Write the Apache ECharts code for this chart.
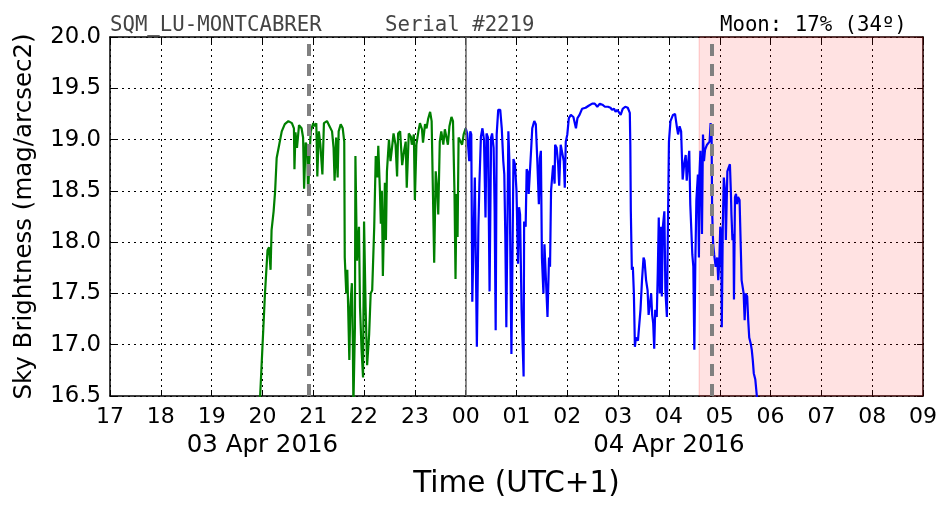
<!DOCTYPE html>
<html>
<head>
<meta charset="utf-8">
<script src="https://cdn.jsdelivr.net/npm/echarts@6/dist/echarts.min.js"></script>
<style>
  html, body { margin: 0; padding: 0; background: #fff; }
  #sqm-chart { width: 952px; height: 512px; }
</style>
</head>
<body>
<div id="sqm-chart"></div>
<script>
  // hours counted from 00:00 on 03 Apr 2016 (24 = midnight, 28 = 04:00 next day)
  var stationName = 'SQM_LU-MONTCABRER';
  var serialText = 'Serial #2219';
  var moonText = 'Moon: 17% (34º)';
  var dateLabels = [{at: 20, text: '03 Apr 2016'}, {at: 28, text: '04 Apr 2016'}];
  var eventLines = [20.917, 28.85];   // grey dashed lines
  var midnight = 24;
  var moonStart = 28.595;              // pink band start
  var axisStart = 17, axisEnd = 33;

  var greenTime = [19.95, 20.05, 20.10, 20.13, 20.16, 20.18, 20.22, 20.25, 20.28, 20.33, 20.38, 20.44, 20.51, 20.58, 20.62, 20.63, 20.65, 20.68, 20.72, 20.77,
    20.80, 20.82, 20.85, 20.88, 20.90, 20.92, 20.95, 21.00, 21.03, 21.06, 21.08, 21.11, 21.14, 21.18, 21.21, 21.27, 21.32, 21.37, 21.40, 21.42,
    21.45, 21.48, 21.50, 21.54, 21.58, 21.61, 21.62, 21.65, 21.67, 21.71, 21.73, 21.76, 21.78, 21.79, 21.82, 21.83, 21.86, 21.90, 21.92, 21.95,
    21.98, 22.00, 22.03, 22.06, 22.10, 22.13, 22.16, 22.20, 22.23, 22.26, 22.28, 22.31, 22.33, 22.35, 22.37, 22.41, 22.43, 22.45, 22.49, 22.52,
    22.55, 22.58, 22.62, 22.65, 22.67, 22.71, 22.75, 22.79, 22.82, 22.84, 22.88, 22.92, 22.94, 22.98, 23.00, 23.03, 23.07, 23.10, 23.14, 23.16,
    23.20, 23.23, 23.26, 23.30, 23.33, 23.35, 23.38, 23.41, 23.44, 23.46, 23.49, 23.52, 23.56, 23.59, 23.62, 23.65, 23.68, 23.72, 23.75, 23.78,
    23.80, 23.82, 23.84, 23.86, 23.89, 23.93, 23.96, 24.00];
  var greenValue = [16.45, 17.50, 17.92, 17.95, 17.73, 18.12, 18.30, 18.50, 18.82, 18.95, 19.08, 19.15, 19.18, 19.16, 19.11, 18.71, 19.07, 18.92, 19.14, 19.11,
    19.02, 18.52, 18.97, 18.94, 18.45, 18.76, 19.08, 19.16, 19.13, 19.16, 18.64, 19.08, 18.95, 18.66, 19.16, 19.18, 19.13, 19.08, 18.92, 18.60,
    19.02, 18.63, 19.08, 19.15, 19.11, 18.98, 17.85, 17.50, 17.73, 16.85, 17.37, 17.60, 16.98, 16.40, 17.17, 18.84, 17.82, 18.15, 17.37, 16.96,
    16.68, 18.20, 17.37, 16.80, 17.10, 17.50, 17.53, 18.15, 18.84, 18.63, 18.94, 18.53, 18.18, 18.50, 17.67, 18.58, 18.02, 18.69, 19.00, 18.79,
    18.92, 19.06, 18.95, 18.64, 19.06, 19.08, 18.75, 18.90, 18.98, 18.53, 19.06, 19.03, 18.95, 19.05, 18.41, 18.95, 19.08, 19.16, 19.10, 18.97,
    19.15, 19.11, 19.20, 19.27, 19.18, 18.63, 17.80, 18.69, 18.50, 18.27, 18.98, 19.08, 18.95, 19.10, 19.11, 18.95, 19.13, 19.22, 19.18, 18.47,
    17.64, 18.47, 18.05, 19.02, 19.02, 18.95, 19.05, 19.11];

  var blueTime = [24.00, 24.03, 24.07, 24.09, 24.11, 24.13, 24.16, 24.18, 24.22, 24.25, 24.27, 24.30, 24.33, 24.36, 24.39, 24.41, 24.44, 24.47, 24.50, 24.52,
    24.55, 24.57, 24.59, 24.61, 24.64, 24.68, 24.71, 24.74, 24.76, 24.78, 24.80, 24.84, 24.86, 24.88, 24.90, 24.92, 24.94, 24.97, 25.00, 25.03,
    25.05, 25.07, 25.10, 25.14, 25.15, 25.18, 25.20, 25.22, 25.24, 25.27, 25.29, 25.31, 25.35, 25.38, 25.41, 25.44, 25.46, 25.48, 25.50, 25.53,
    25.55, 25.58, 25.61, 25.64, 25.66, 25.68, 25.70, 25.72, 25.75, 25.76, 25.79, 25.82, 25.84, 25.87, 25.90, 25.93, 25.95, 25.97, 26.00, 26.03,
    26.07, 26.12, 26.15, 26.17, 26.20, 26.24, 26.29, 26.36, 26.42, 26.49, 26.54, 26.59, 26.64, 26.69, 26.74, 26.80, 26.85, 26.88, 26.92, 26.95,
    26.98, 27.01, 27.05, 27.09, 27.14, 27.19, 27.23, 27.24, 27.25, 27.27, 27.29, 27.31, 27.33, 27.35, 27.39, 27.42, 27.44, 27.47, 27.50, 27.52,
    27.55, 27.58, 27.60, 27.63, 27.65, 27.67, 27.69, 27.71, 27.73, 27.76, 27.78, 27.80, 27.82, 27.84, 27.86, 27.88, 27.91, 27.93, 27.96, 27.98,
    28.00, 28.03, 28.08, 28.12, 28.16, 28.18, 28.21, 28.24, 28.25, 28.27, 28.30, 28.33, 28.35, 28.38, 28.40, 28.42, 28.44, 28.46, 28.48, 28.50,
    28.52, 28.54, 28.57, 28.59, 28.60, 28.62, 28.65, 28.67, 28.69, 28.71, 28.75, 28.77, 28.80, 28.82, 28.84, 28.85, 28.87, 28.89, 28.92, 28.95,
    28.97, 28.99, 29.01, 29.03, 29.04, 29.06, 29.08, 29.11, 29.12, 29.15, 29.17, 29.20, 29.22, 29.23, 29.25, 29.27, 29.28, 29.30, 29.32, 29.34,
    29.36, 29.39, 29.41, 29.43, 29.47, 29.49, 29.51, 29.54, 29.56, 29.58, 29.61, 29.63, 29.65, 29.67, 29.70, 29.73, 29.75];
  var blueValue = [19.11, 19.06, 18.79, 19.08, 19.05, 17.42, 17.41, 18.63, 16.98, 18.15, 18.57, 19.03, 19.11, 19.00, 18.24, 19.06, 19.02, 17.52, 19.02, 19.06,
    18.92, 18.30, 17.14, 19.05, 19.29, 19.29, 19.11, 18.79, 18.66, 18.05, 17.17, 19.08, 18.79, 17.82, 16.91, 17.82, 18.81, 18.76, 18.50, 17.79,
    18.34, 18.27, 17.34, 16.69, 18.20, 18.15, 18.71, 18.69, 18.47, 18.74, 18.92, 19.11, 19.18, 19.15, 18.79, 18.37, 18.82, 18.89, 17.85, 17.50,
    17.98, 17.98, 17.27, 17.85, 17.76, 18.50, 18.51, 18.75, 18.57, 18.95, 18.92, 18.76, 18.55, 18.95, 18.94, 18.79, 18.53, 18.98, 19.05, 19.21,
    19.24, 19.22, 19.21, 19.11, 19.21, 19.24, 19.30, 19.31, 19.33, 19.35, 19.35, 19.32, 19.35, 19.34, 19.32, 19.32, 19.31, 19.29, 19.30, 19.27,
    19.29, 19.27, 19.24, 19.30, 19.32, 19.31, 19.26, 18.95, 18.30, 17.73, 17.76, 17.50, 16.98, 17.07, 17.04, 17.04, 17.34, 17.63, 17.85, 17.82,
    17.63, 17.53, 17.29, 17.30, 17.50, 17.29, 17.21, 16.96, 17.34, 17.27, 17.70, 18.24, 17.50, 18.15, 17.47, 18.15, 18.30, 17.53, 17.27, 18.15,
    18.98, 19.18, 19.24, 19.25, 19.11, 19.05, 19.13, 19.08, 18.92, 18.61, 18.76, 18.85, 18.60, 18.79, 18.89, 18.37, 18.37, 17.88, 17.76, 16.95,
    17.82, 18.41, 18.66, 17.85, 18.66, 18.89, 18.08, 19.05, 18.79, 18.90, 18.95, 18.94, 18.98, 19.16, 19.02, 18.30, 17.98, 17.88, 17.76, 17.85,
    17.63, 17.79, 18.15, 18.08, 17.17, 18.15, 18.63, 18.47, 18.02, 18.69, 18.72, 18.76, 18.47, 18.27, 18.02, 18.08, 17.44, 18.44, 18.47, 18.37,
    18.44, 18.41, 18.02, 17.63, 17.50, 17.24, 17.50, 17.47, 17.24, 17.07, 17.01, 16.95, 16.85, 16.72, 16.66, 16.50, 16.40];

  var yMin = 16.5, yMax = 20.0, yStep = 0.5;

  function pairUp(t, v) {
    return t.map(function (x, i) { return [x, v[i]]; });
  }

  var sansFont = 'DejaVu Sans';
  var monoFont = 'DejaVu Sans Mono';

  var chart = echarts.init(document.getElementById('sqm-chart'));

  var dotted = {show: true, lineStyle: {color: '#000', width: 1, type: [2, 4]}};

  var option = {
    animation: false,
    backgroundColor: '#fff',
    grid: {left: 110, right: 29, top: 37, bottom: 116},
    graphic: [
      {type: 'text', left: 110, top: 15, style: {text: stationName, font: '20.7px "' + monoFont + '"', fill: '#444'}},
      {type: 'text', left: 385, top: 15, style: {text: serialText, font: '20.7px "' + monoFont + '"', fill: '#444'}},
      {type: 'text', left: 720, top: 15, style: {text: moonText, font: '20.7px "' + monoFont + '"', fill: '#000'}}
    ],
    xAxis: [{
      type: 'value', min: axisStart, max: axisEnd, interval: 1,
      name: 'Time (UTC+1)', nameLocation: 'middle', nameGap: 73,
      nameTextStyle: {fontFamily: sansFont, fontSize: 29.5, color: '#000'},
      axisLine: {show: true, onZero: false, lineStyle: {color: '#000', width: 1.5}},
      axisTick: {show: true, inside: true, length: 6, lineStyle: {color: '#000'}},
      axisLabel: {
        fontFamily: sansFont, fontSize: 22, color: '#000', margin: 8, lineHeight: 27,
        showMinLabel: true, showMaxLabel: true,
        formatter: function (v) {
          var h = Math.round(v) % 24;
          var s = (h < 10 ? '0' : '') + h;
          dateLabels.forEach(function (d) { if (d.at === Math.round(v)) s += '\n{d|' + d.text + '}'; });
          return s;
        },
        rich: {d: {fontFamily: sansFont, fontSize: 24.5, color: '#000', lineHeight: 30}}
      },
      splitLine: dotted
    }, {
      type: 'value', position: 'top', min: axisStart, max: axisEnd, interval: 1,
      axisLine: {show: true, onZero: false, lineStyle: {color: '#000', width: 1.5}},
      axisTick: {show: true, inside: true, length: 6, lineStyle: {color: '#000'}},
      axisLabel: {show: false}, splitLine: {show: false}
    }],
    yAxis: [{
      type: 'value', min: yMin, max: yMax, interval: yStep,
      name: 'Sky Brightness (mag/arcsec2)', nameLocation: 'middle', nameGap: 73,
      nameTextStyle: {fontFamily: sansFont, fontSize: 24.5, color: '#000'},
      axisLine: {show: true, onZero: false, lineStyle: {color: '#000', width: 1.5}},
      axisTick: {show: true, inside: true, length: 6, lineStyle: {color: '#000'}},
      axisLabel: {fontFamily: sansFont, fontSize: 22.8, color: '#000', margin: 9,
        showMinLabel: true, showMaxLabel: true,
        formatter: function (v) { return v.toFixed(1); }},
      splitLine: dotted
    }, {
      type: 'value', position: 'right', min: yMin, max: yMax, interval: yStep,
      axisLine: {show: true, onZero: false, lineStyle: {color: '#000', width: 1.5}},
      axisTick: {show: true, inside: true, length: 6, lineStyle: {color: '#000'}},
      axisLabel: {show: false}, splitLine: {show: false}
    }],
    series: [{
      type: 'line', name: 'evening', data: pairUp(greenTime, greenValue),
      showSymbol: false, clip: true, z: 3,
      lineStyle: {color: '#008000', width: 2.2},
      markArea: {
        silent: true,
        itemStyle: {color: 'rgba(255,0,0,0.115)', borderColor: 'rgba(255,0,0,0.2)', borderWidth: 1},
        data: [[{xAxis: moonStart}, {xAxis: axisEnd}]]
      },
      markLine: {
        silent: true, symbol: 'none', label: {show: false},
        data: [
          {xAxis: midnight, lineStyle: {color: '#666', width: 1.5, type: 'solid'}}
        ]
      }
    }, {
      type: 'line', name: 'morning', data: pairUp(blueTime, blueValue),
      showSymbol: false, clip: true, z: 3,
      lineStyle: {color: '#0000ff', width: 2.2},
      markLine: {
        silent: true, symbol: 'none', label: {show: false}, z: 4,
        lineStyle: {color: '#808080', width: 4, type: [12, 8]},
        data: eventLines.map(function (t) { return {xAxis: t}; })
      }
    }]
  };

  chart.setOption(option);
</script>
</body>
</html>
